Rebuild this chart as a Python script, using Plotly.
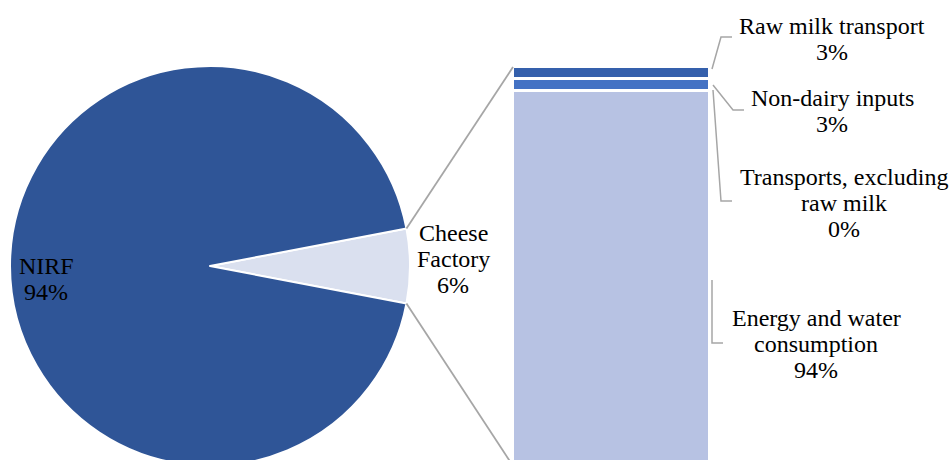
import math
import plotly.graph_objects as go

# ---- data ----
pie_labels = ["Cheese Factory", "NIRF"]
pie_values = [6, 94]
pie_colors = ["#DAE0EF", "#2F5597"]

bar_labels = ["Energy and water consumption", "Transports, excluding raw milk",
              "Non-dairy inputs", "Raw milk transport"]
bar_values = [94, 0, 3, 3]
bar_colors = ["#B7C2E3", "#B7C2E3", "#4472C4", "#3560AC"]
bar_text_lines = [["Energy and water", "consumption"],
                  ["Transports, excluding", "raw milk"],
                  ["Non-dairy inputs"],
                  ["Raw milk transport"]]

# figure is slightly taller than the 460 px window; the overflow is hidden,
# so the pie and bar run off the bottom edge as in the original
W, H = 952, 470
FONT = "Liberation Serif, Times New Roman, serif"
FSIZE = 24
LINE = 25.8


def px(x):
    return x / W


def py(y):
    return 1 - y / H

# pie geometry (screen pixels)
pcx, pcy, pr = 210, 266, 200
# bar geometry
bx0, bx1 = 513, 710
bar_top_px, bar_zero_px = 67, 466

scale = (bar_zero_px - bar_top_px) / sum(bar_values)
y_lo = -((H - bar_zero_px) / scale)
y_hi = y_lo + H / scale


def bar_pix(v):
    return bar_zero_px - v * scale

fig = go.Figure()

half = pie_values[0] / sum(pie_values) * 360 / 2
fig.add_trace(go.Pie(
    labels=pie_labels, values=pie_values, sort=False,
    direction="clockwise", rotation=90 - half,
    marker=dict(colors=pie_colors, line=dict(color="white", width=2)),
    textinfo="none", hoverinfo="label+percent", showlegend=False,
    domain=dict(x=[px(pcx - pr), px(pcx + pr)], y=[py(pcy + pr), py(pcy - pr)]),
))

for lab, v, c in zip(bar_labels, bar_values, bar_colors):
    fig.add_trace(go.Bar(
        x=["Cheese Factory"], y=[v], name=lab,
        marker=dict(color=c, line=dict(color="white", width=3)),
        showlegend=False, xaxis="x", yaxis="y",
    ))

shapes = []
a = math.radians(half)
ex = pcx + pr * math.cos(a)
ey_top = pcy - pr * math.sin(a)
ey_bot = pcy + pr * math.sin(a)
total = sum(bar_values)
shapes.append(dict(type="line", xref="paper", yref="paper",
                   x0=px(ex), y0=py(ey_top), x1=px(bx0), y1=py(bar_pix(total)),
                   line=dict(color="#A6A6A6", width=1.8)))
shapes.append(dict(type="line", xref="paper", yref="paper",
                   x0=px(ex), y0=py(ey_bot), x1=px(bx0), y1=py(bar_pix(0)),
                   line=dict(color="#A6A6A6", width=1.8)))

leaders = {
    "Raw milk transport": [(712, 69), (721, 37), (732, 37)],
    "Non-dairy inputs": [(713, 85), (733, 110), (744, 110)],
    "Transports, excluding raw milk": [(713, 90), (721, 201), (732, 201)],
    "Energy and water consumption": [(712, 280), (712, 343), (723, 343)],
}
label_pos = {
    "Raw milk transport": (832, 26),
    "Non-dairy inputs": (832, 98),
    "Transports, excluding raw milk": (844, 177),
    "Energy and water consumption": (816, 318),
}
for lab in bar_labels:
    pts = leaders[lab]
    path = "M " + " L ".join(f"{px(x):.5f},{py(y):.5f}" for x, y in pts)
    shapes.append(dict(type="path", xref="paper", yref="paper", path=path,
                       line=dict(color="#A6A6A6", width=1.5)))

annotations = []


def add_label(lines, x, y0):
    for i, t in enumerate(lines):
        annotations.append(dict(xref="paper", yref="paper", x=px(x), y=py(y0 + i * LINE),
                                text=t, showarrow=False, xanchor="center", yanchor="middle",
                                align="center",
                                font=dict(family=FONT, size=FSIZE, color="black")))

for lab, v, lines in zip(bar_labels, bar_values, bar_text_lines):
    x, y = label_pos[lab]
    add_label(lines + [f"{v}%"], x, y)

add_label(["Cheese", "Factory", f"{pie_values[0]}%"], 453, 233)
add_label([pie_labels[1], f"{pie_values[1]}%"], 46, 266)

fig.update_layout(
    width=W, height=H,
    margin=dict(l=0, r=0, t=0, b=0),
    paper_bgcolor="white", plot_bgcolor="white",
    font=dict(family=FONT),
    barmode="stack", bargap=0,
    xaxis=dict(domain=[px(bx0), px(bx1)], visible=False),
    yaxis=dict(domain=[0, 1], range=[y_lo, y_hi], visible=False),
    shapes=shapes, annotations=annotations,
)

fig.write_html("out.html", config={"displayModeBar": False},
               post_script="document.body.style.margin='0';document.body.style.overflow='hidden';")
